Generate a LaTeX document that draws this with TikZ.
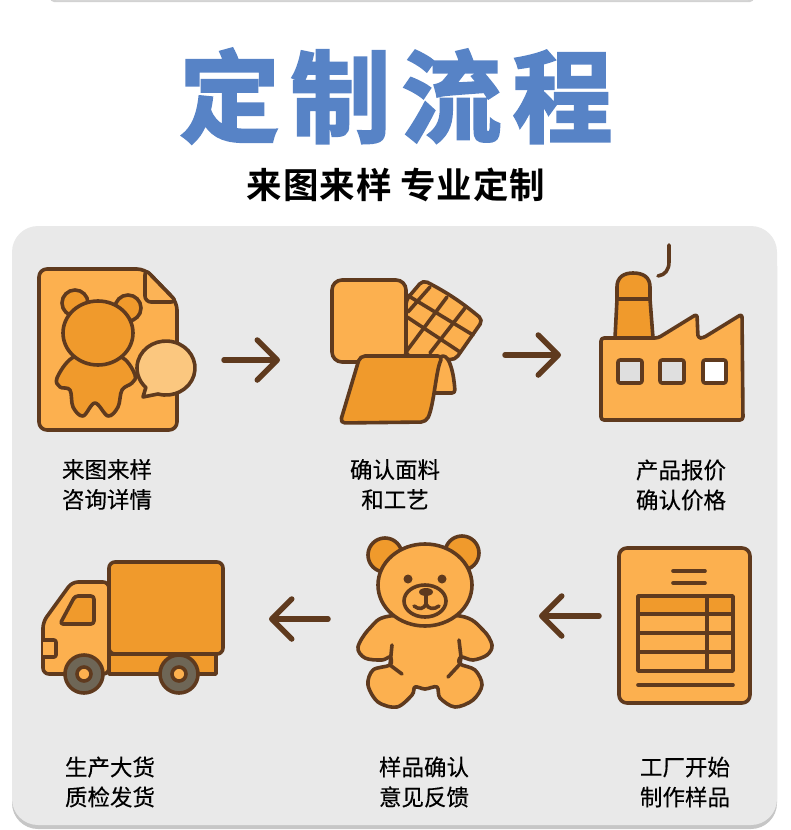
\documentclass[tikz,border=0pt]{standalone}
\usepackage{fontspec}
\setmainfont{Noto Sans CJK SC}
\newfontfamily\labelfont[FakeBold=0.3]{Noto Sans CJK SC}
\newfontfamily\titlefont[FakeBold=2.5,LetterSpace=11]{Noto Sans CJK SC Bold}
\newfontfamily\subfont[LetterSpace=2.5]{Noto Sans CJK SC Bold}
\usetikzlibrary{arrows.meta,positioning}
\definecolor{iconbrown}{HTML}{5F3A1E}
\definecolor{iconlight}{HTML}{FCB04F}
\definecolor{icondark}{HTML}{F09A2C}
\definecolor{bubblefill}{HTML}{FBC77F}
\definecolor{wheelgrey}{HTML}{6E6656}
\definecolor{titleblue}{HTML}{5783C6}
\definecolor{cardgrey}{HTML}{E9E9E9}

\begin{document}
\begin{tikzpicture}[
  x=1pt, y=-1pt,
  outline/.style={draw=iconbrown, line width=3.6pt, line join=round, line cap=round},
  lightpart/.style={outline, fill=iconlight},
  darkpart/.style={outline, fill=icondark},
  arr/.style={-{Straight Barb[length=20pt,width=40pt,line width=5.5pt,round]}, line width=5.5pt, line cap=round, iconbrown},
  steplabel/.style={align=center, font=\labelfont\fontsize{22.5}{30}\selectfont, text=black}
]
\useasboundingbox (0,0) rectangle (790,830);
% top edge and card
\fill[gray!35, rounded corners=4pt] (50,-12) rectangle (754,2);
\fill[white!90!gray, rounded corners=4pt] (52,-12) rectangle (752,0);
\fill[gray!45, rounded corners=26pt] (12,240) rectangle (777,829);
\fill[cardgrey, rounded corners=26pt] (12,226) rectangle (777,825);

\node[text=titleblue, font=\titlefont\fontsize{100}{100}\selectfont] (title) at (396,96) {定制流程};
\node[font=\subfont\fontsize{35.5}{36}\selectfont, text=black] (subtitle) at (396,185) {来图来样 专业定制};

% document with bear
\draw[lightpart, rounded corners=8pt] (39,269) -- (145,269) -- (177,302) -- (177,430) -- (39,430) -- cycle;
\draw[outline, fill=iconlight!85!bubblefill, rounded corners=6pt] (145,269) -- (145,302) -- (177,302) -- cycle;
\draw[darkpart] (75,303) circle[radius=13];
\draw[darkpart] (128,308) circle[radius=13];
\draw[darkpart] plot[smooth cycle, tension=0.6] coordinates {(72,358) (57,378) (60,387) (70,390) (73,407) (83,416) (95,403) (108,416) (118,407) (122,390) (132,383) (135,375) (123,358) (98,352)};
\draw[darkpart] (98,333) ellipse[x radius=35, y radius=32];
\draw[outline, fill=bubblefill] (143,397) -- (158,394) arc[start angle=106, end angle=-226, x radius=29, y radius=27] -- cycle;

% fabric swatches
\draw[lightpart, rounded corners=5pt] (406,300) -- (423,280) to[bend left=6] (483,320) -- (455,360) -- (406,356) -- cycle;
\draw[outline] (430,287) -- (408,312);
\draw[outline] (447,297) -- (406,352);
\draw[outline] (465,308) -- (430,353);
\draw[outline] (407,295) -- (473,335);
\draw[outline] (407,317) -- (460,352);
\draw[lightpart, rounded corners=10pt] (332,280) rectangle (406,362);
\draw[lightpart, rounded corners=3pt] (440,356) .. controls (450,356) and (454,375) .. (455,393) -- (430,393) -- cycle;
\draw[darkpart, rounded corners=5pt] (360,356) -- (443,356) .. controls (436,370) and (434,405) .. (426,422) -- (340,423) -- cycle;

% factory
\draw[lightpart, rounded corners=3pt] (601,338) -- (658,338) -- (697,314) -- (698,338) -- (703,338) -- (742,314) -- (743,420) -- (601,420) -- cycle;
\draw[darkpart] (615,338) -- (617,299) -- (650,299) -- (653,338) -- cycle;
\draw[darkpart] (617,299) -- (617,287) .. controls (617,277) and (624,273) .. (633,273) .. controls (643,273) and (650,277) .. (650,287) -- (650,299) -- cycle;
\draw[outline] (669,245) -- (669,262) .. controls (669,270) and (665,275) .. (658,276);
\draw[outline, fill=gray!25!white, rounded corners=2pt] (618,360) rectangle (642,383);
\draw[outline, fill=gray!25!white, rounded corners=2pt] (660,360) rectangle (684,383);
\draw[outline, fill=white, rounded corners=2pt] (703,360) rectangle (726,383);

% quote sheet
\draw[lightpart, rounded corners=8pt] (619,548) rectangle (750,703);
\draw[outline] (673,571) -- (705,571);
\draw[outline] (673,583) -- (705,583);
\draw[darkpart] (638,596) rectangle (733,614);
\draw[outline] (638,614) rectangle (733,671);
\draw[outline] (638,633) -- (733,633);
\draw[outline] (638,652) -- (733,652);
\draw[outline] (707,596) -- (707,671);
\draw[outline] (638,685) -- (733,685);

% teddy bear
\draw[darkpart] (385,555) circle[radius=17];
\draw[darkpart] (462,553) circle[radius=17];
\draw[lightpart] plot[smooth cycle, tension=0.55] coordinates {(390,616) (370,628) (358,647) (365,658) (382,660) (390,657) (390,665) (373,670) (368,685) (378,702) (397,707) (412,695) (415,687) (425,689) (437,687) (440,698) (455,707) (473,700) (482,685) (475,670) (460,664) (461,657) (473,660) (487,655) (492,645) (483,630) (460,616)};
\draw[outline] (392,645) -- (390,665) -- (402,674);
\draw[outline] (459,640) -- (461,657) -- (460,664) -- (448,677);
\draw[lightpart] (425,585) ellipse[x radius=47, y radius=41];
\draw[lightpart] (425,601) ellipse[x radius=21, y radius=16];
\fill[iconbrown] (408,579) circle[radius=4.5];
\fill[iconbrown] (442,579) circle[radius=4.5];
\fill[iconbrown] (426,592) ellipse[x radius=7, y radius=4];
\draw[outline] (426,594) -- (426,604);
\draw[outline] (414,606) .. controls (419,610) and (424,609) .. (426,604) .. controls (428,609) and (434,610) .. (439,606);

% truck
\draw[darkpart] (109,654) -- (216,654) -- (216,674) -- (109,674) -- cycle;
\draw[lightpart, rounded corners=6pt] (109,582) -- (72,582) -- (43,622) -- (43,674) -- (109,674) -- cycle;
\draw[darkpart, rounded corners=6pt] (109,562) rectangle (223,654);
\draw[darkpart, rounded corners=3pt] (60,624) -- (75,596) -- (94,596) -- (94,624) -- cycle;
\draw[lightpart, rounded corners=2pt] (43,640) -- (56,640) -- (56,657) -- (43,657);
\draw[outline, fill=wheelgrey] (84,674) circle[radius=19];
\draw[lightpart] (84,674) circle[radius=7];
\draw[outline, fill=wheelgrey] (179,674) circle[radius=19];
\draw[lightpart] (179,674) circle[radius=7];

\coordinate (arrowa) at (224,360);
\coordinate (arrowb) at (280,360);
\coordinate (arrowc) at (505,355);
\coordinate (arrowd) at (561,355);
\coordinate (arrowe) at (599,616);
\coordinate (arrowf) at (539,616);
\coordinate (arrowg) at (328,619);
\coordinate (arrowh) at (269,619);
\draw[arr] (arrowa) -- (arrowb);
\draw[arr] (arrowc) -- (arrowd);
\draw[arr] (arrowe) -- (arrowf);
\draw[arr] (arrowg) -- (arrowh);

\node[steplabel] (stepa) at (107,484.5) {来图来样\\咨询详情};
\node[steplabel] (stepb) at (395,484.5) {确认面料\\和工艺};
\node[steplabel] (stepc) at (681,485) {产品报价\\确认价格};
\node[steplabel] (stepd) at (685,782) {工厂开始\\制作样品};
\node[steplabel] (stepe) at (424,782) {样品确认\\意见反馈};
\node[steplabel] (stepf) at (110,782) {生产大货\\质检发货};
\end{tikzpicture}
\end{document}
